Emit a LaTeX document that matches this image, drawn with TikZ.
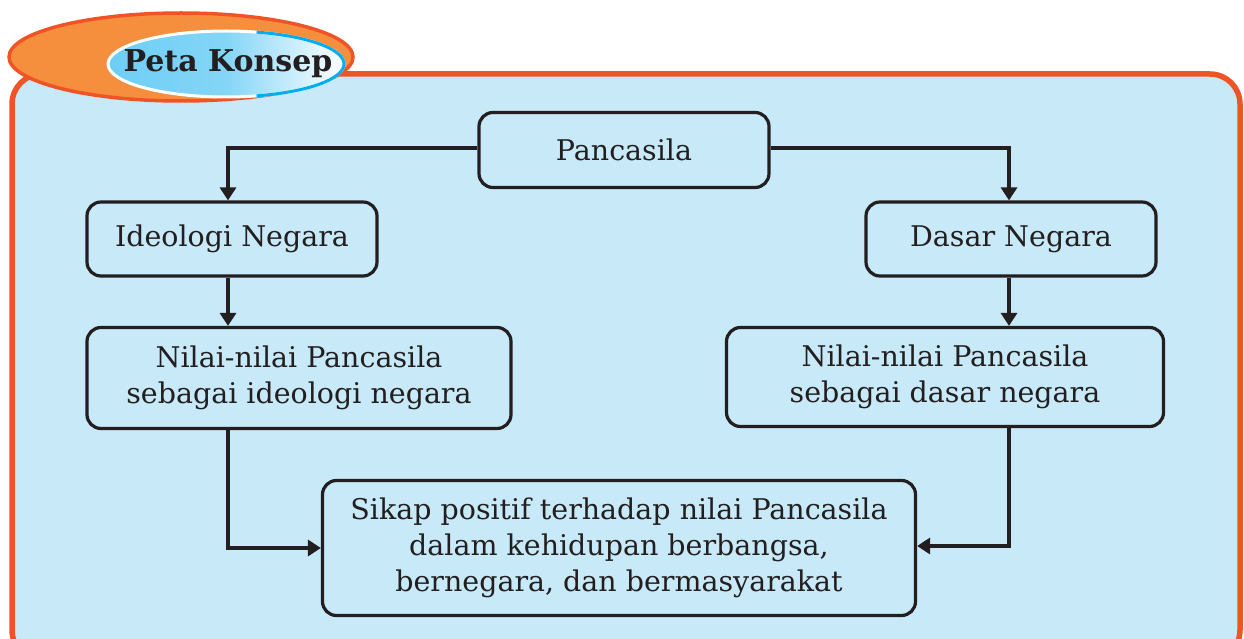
\documentclass[tikz,border=0pt]{standalone}
\usepackage{fontspec}
\setmainfont{DejaVu Serif}
\usetikzlibrary{arrows.meta,shapes.geometric}
\definecolor{panelfill}{RGB}{199,233,248}
\definecolor{panelline}{RGB}{240,84,38}
\definecolor{orangefill}{RGB}{246,143,61}
\definecolor{ink}{RGB}{35,31,32}
\definecolor{cyanline}{RGB}{0,174,239}
\definecolor{cyanfill}{RGB}{110,206,245}
\tikzset{
  box/.style={draw=ink, line width=3.2pt, rounded corners=14pt, fill=panelfill,
    align=center, inner sep=0pt, font=\fontsize{28.5}{36}\selectfont, text=ink},
  conn/.style={draw=ink, line width=3.2pt, -{Triangle[length=13pt,width=16pt]}},
}
\begin{document}
\begin{tikzpicture}[x=1pt,y=-1pt]
\clip (0,0) rectangle (1244,639);
\fill[white] (0,0) rectangle (1244,639);
% panel
\draw[panelline, line width=5.5pt, fill=panelfill, rounded corners=30pt] (12,74) rectangle (1240,660);
% title ellipses
\draw[panelline, line width=3.5pt, fill=orangefill] (181,57) ellipse [x radius=172, y radius=44];
\shade[left color=cyanfill, right color=white, middle color=cyanfill!85!white] (226,64) ellipse [x radius=118, y radius=33];
\draw[white, line width=3pt] (226,64) ellipse [x radius=118, y radius=33];
\draw[cyanline, line width=3pt] ([shift={(-75:118 and 33)}]226,64) arc [start angle=-75, end angle=75, x radius=118, y radius=33];
\node[font=\fontsize{30}{34}\selectfont\bfseries, text=ink] (title) at (228,64) {Peta Konsep};
% boxes
\node[box, minimum width=290pt, minimum height=75pt] (pan) at (624,150) {Pancasila};
\node[box, minimum width=290pt, minimum height=74pt] (ideo) at (232,239) {Ideologi Negara};
\node[box, minimum width=290pt, minimum height=74pt] (dasar) at (1011,239) {Dasar Negara};
\node[box, minimum width=424pt, minimum height=101pt] (nilL) at (299,378) {Nilai-nilai Pancasila\\sebagai ideologi negara};
\node[box, minimum width=437pt, minimum height=99pt] (nilR) at (945,377) {Nilai-nilai Pancasila\\sebagai dasar negara};
\node[box, minimum width=593pt, minimum height=135pt] (sikap) at (619,548) {Sikap positif terhadap nilai Pancasila\\dalam kehidupan berbangsa,\\bernegara, dan bermasyarakat};
% connectors
\draw[conn] (pan.west |- 0,148) -| (ideo.north -| 228,0);
\draw[conn] (pan.east |- 0,148) -| (dasar.north -| 1009,0);
\draw[conn] (ideo.south -| 228,0) -- (nilL.north -| 228,0);
\draw[conn] (dasar.south -| 1009,0) -- (nilR.north -| 1009,0);
\draw[conn] (nilL.south -| 228,0) |- (sikap.west |- 0,548);
\draw[conn] (nilR.south -| 1009,0) |- (sikap.east |- 0,546);
\end{tikzpicture}
\end{document}
